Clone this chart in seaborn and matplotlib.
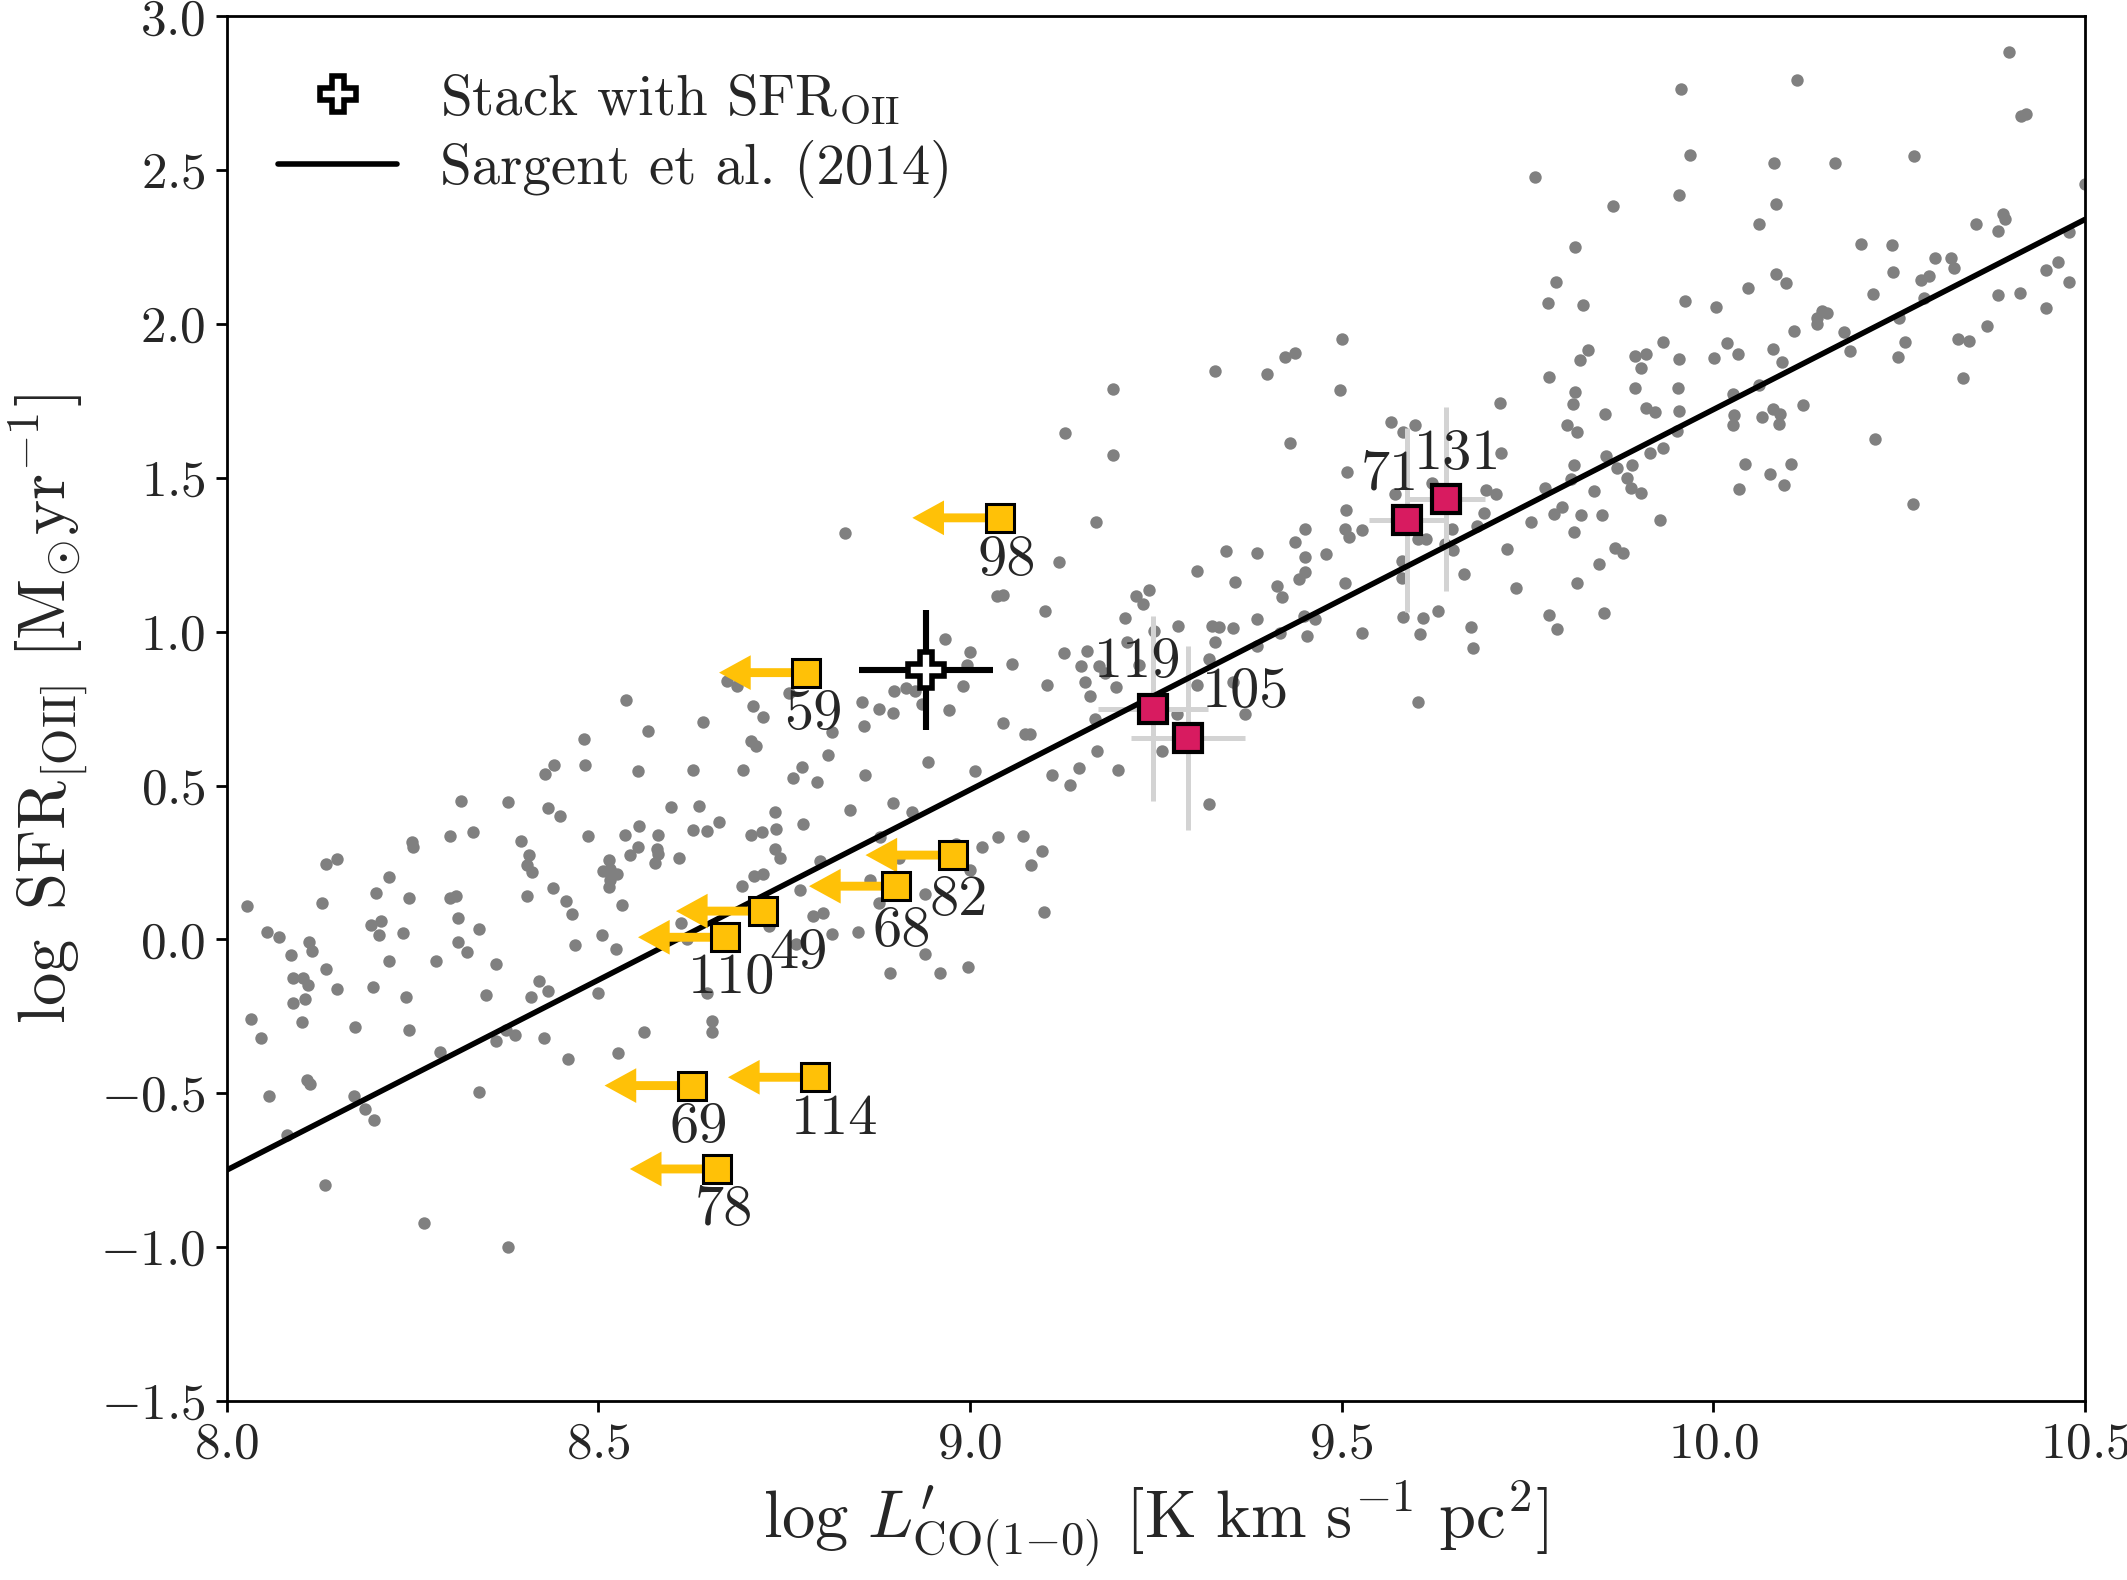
import numpy as np
import pandas as pd
import matplotlib
matplotlib.use("Agg")
import matplotlib.pyplot as plt
from matplotlib.lines import Line2D
import seaborn as sns

sns.set_theme(style="ticks")
plt.rcParams['font.family'] = ['cmr10', 'DejaVu Serif']
plt.rcParams['mathtext.fontset'] = 'cm'
plt.rcParams['axes.formatter.use_mathtext'] = True
plt.rcParams['axes.unicode_minus'] = True

# grey comparison sample (log L'CO, log SFR)
gx = [8.481, 8.482, 8.440, 8.428, 8.315, 8.378, 8.433, 8.448, 8.486, 8.301, 8.332, 8.250, 8.251, 8.396,
      8.407, 8.404, 8.411, 8.148, 8.134, 8.218, 8.201, 8.246, 8.301, 8.309, 8.128, 8.028, 8.439, 8.404,
      8.456, 8.465, 8.054, 8.070, 8.111, 8.115, 8.087, 8.195, 8.208, 8.205, 8.238, 8.312, 8.339, 8.311,
      8.324, 8.469, 8.134, 8.089, 8.103, 8.109, 8.148, 8.197, 8.218, 8.282, 8.362, 8.241, 8.349, 8.420,
      8.433, 8.409, 8.500, 8.105, 8.090, 8.101, 8.033, 8.047, 8.173, 8.245, 8.376, 8.388, 8.362, 8.427,
      8.287, 8.459, 8.108, 8.112, 8.057, 8.172, 8.186, 8.199, 8.339, 8.081, 8.133, 8.265, 8.378, 8.505,
      # 8.5 - 9.0
      8.832, 8.538, 8.567, 8.641, 8.673, 8.686, 8.708, 8.721, 8.706, 8.712, 8.756, 8.815, 8.809, 8.774,
      8.762, 8.794, 8.695, 8.627, 8.553, 8.855, 8.877, 8.858, 8.897, 8.898, 8.914, 8.926, 8.935, 8.967,
      9.000, 8.996, 8.991, 8.972, 8.943, 8.859, 9.007, 8.897, 8.922, 8.839, 8.776, 8.738, 8.739, 8.663,
      8.635, 8.598, 8.627, 8.646, 8.555, 8.536, 8.580, 8.706, 8.720, 8.553, 8.543, 8.579, 8.581, 8.576,
      8.608, 8.514, 8.507, 8.516, 8.525, 8.516, 8.514, 8.532, 8.738, 8.745, 8.709, 8.722, 8.694, 8.772,
      8.798, 8.866, 8.879, 8.904, 8.981, 8.940, 8.877, 8.789, 8.802, 8.814, 8.849, 8.766, 8.730, 8.611,
      8.619, 8.524, 8.940, 8.892, 8.960, 8.998, 8.646, 8.561, 8.653, 8.653, 8.527,
      # 9.0 - 9.5
      9.193, 9.128, 9.193, 9.330, 9.399, 9.424, 9.437, 9.431, 9.169, 9.120, 9.036, 9.045, 9.101, 9.126,
      9.056, 9.103, 9.044, 9.074, 9.081, 9.016, 9.038, 9.071, 9.097, 9.082, 9.000, 9.099, 9.111, 9.135,
      9.147, 9.171, 9.199, 9.168, 9.162, 9.155, 9.149, 9.158, 9.173, 9.181, 9.197, 9.208, 9.223, 9.233,
      9.241, 9.211, 9.228, 9.247, 9.280, 9.306, 9.326, 9.335, 9.354, 9.329, 9.322, 9.345, 9.357, 9.386,
      9.386, 9.386, 9.413, 9.420, 9.417, 9.442, 9.451, 9.451, 9.437, 9.451, 9.479, 9.449, 9.464, 9.453,
      9.354, 9.370, 9.306, 9.278, 9.258, 9.322,
      # 9.5 - 10.0
      9.956, 9.968, 9.954, 9.760, 9.865, 9.814, 9.788, 9.778, 9.824, 9.962, 9.501, 9.498, 9.831, 9.820,
      9.894, 9.910, 9.932, 9.903, 9.954, 9.779, 9.895, 9.953, 9.814, 9.811, 9.803, 9.817, 9.854, 9.910,
      9.921, 9.954, 9.951, 9.713, 9.566, 9.582, 9.599, 9.507, 9.714, 9.572, 9.621, 9.694, 9.707, 9.506,
      9.505, 9.510, 9.527, 9.504, 9.692, 9.682, 9.648, 9.614, 9.603, 9.639, 9.650, 9.581, 9.581, 9.664,
      9.722, 9.735, 9.755, 9.774, 9.786, 9.797, 9.808, 9.813, 9.822, 9.840, 9.850, 9.812, 9.855, 9.870,
      9.884, 9.891, 9.889, 9.903, 9.915, 9.932, 9.928, 9.868, 9.878, 9.846, 9.816, 9.779, 9.790, 9.853,
      9.583, 9.610, 9.605, 9.629, 9.674, 9.677, 9.528, 9.603,
      # 10.0 - 10.5
      10.398, 10.414, 10.421, 10.113, 10.082, 10.163, 10.270, 10.084, 10.061, 10.500, 10.199, 10.240,
      10.241, 10.353, 10.389, 10.392, 10.383, 10.479, 10.298, 10.320, 10.324, 10.290, 10.279, 10.283,
      10.084, 10.098, 10.046, 10.215, 10.003, 10.146, 10.153, 10.139, 10.140, 10.109, 10.176, 10.184,
      10.018, 10.033, 10.001, 10.080, 10.092, 10.250, 10.258, 10.248, 10.329, 10.344, 10.368, 10.383,
      10.412, 10.447, 10.464, 10.479, 10.448, 10.336, 10.061, 10.027, 10.028, 10.027, 10.065, 10.080,
      10.090, 10.088, 10.120, 10.217, 10.043, 10.105, 10.076, 10.095, 10.034, 10.269]
gy = [0.651, 0.566, 0.566, 0.538, 0.451, 0.446, 0.426, 0.401, 0.337, 0.336, 0.350, 0.318, 0.301, 0.320,
      0.274, 0.243, 0.218, 0.262, 0.245, 0.203, 0.152, 0.136, 0.134, 0.140, 0.117, 0.108, 0.167, 0.140,
      0.124, 0.084, 0.024, 0.009, -0.009, -0.037, -0.052, 0.047, 0.059, 0.013, 0.022, 0.071, 0.034, -0.009,
      -0.040, -0.018, -0.096, -0.125, -0.127, -0.149, -0.161, -0.155, -0.070, -0.070, -0.081, -0.187, -0.181, -0.136,
      -0.168, -0.187, -0.173, -0.193, -0.208, -0.267, -0.260, -0.320, -0.285, -0.293, -0.293, -0.310, -0.330, -0.320,
      -0.366, -0.388, -0.456, -0.469, -0.509, -0.509, -0.552, -0.586, -0.495, -0.636, -0.797, -0.922, -1.000, 0.013,
      # 8.5 - 9.0
      1.321, 0.779, 0.677, 0.705, 0.839, 0.825, 0.758, 0.722, 0.644, 0.628, 0.800, 0.673, 0.599, 0.561,
      0.524, 0.512, 0.550, 0.550, 0.548, 0.770, 0.749, 0.694, 0.737, 0.808, 0.817, 0.808, 0.765, 0.977,
      0.933, 0.892, 0.822, 0.744, 0.576, 0.535, 0.547, 0.444, 0.414, 0.422, 0.375, 0.414, 0.360, 0.381,
      0.432, 0.430, 0.356, 0.352, 0.367, 0.340, 0.338, 0.340, 0.348, 0.300, 0.274, 0.294, 0.278, 0.248,
      0.263, 0.259, 0.222, 0.230, 0.211, 0.193, 0.170, 0.112, 0.295, 0.263, 0.207, 0.211, 0.173, 0.161,
      0.254, 0.193, 0.332, 0.263, 0.309, 0.147, 0.118, 0.075, 0.086, 0.017, 0.025, -0.016, 0.042, 0.054,
      0.002, -0.030, -0.048, -0.108, -0.108, -0.091, -0.174, -0.300, -0.265, -0.300, -0.369,
      # 9.0 - 9.5
      1.790, 1.647, 1.573, 1.848, 1.838, 1.892, 1.906, 1.613, 1.357, 1.225, 1.117, 1.120, 1.068, 0.932,
      0.896, 0.827, 0.704, 0.666, 0.666, 0.301, 0.333, 0.337, 0.286, 0.243, 0.226, 0.089, 0.533, 0.501,
      0.558, 0.611, 0.550, 0.717, 0.791, 0.835, 0.887, 0.936, 0.888, 0.867, 0.820, 1.045, 1.117, 1.091,
      1.135, 0.965, 0.891, 1.001, 1.019, 1.196, 1.020, 1.014, 1.012, 0.967, 0.910, 1.261, 1.161, 1.255,
      1.041, 0.954, 1.149, 1.113, 0.997, 1.171, 1.193, 1.244, 1.292, 1.335, 1.254, 1.052, 1.041, 0.985,
      0.835, 0.733, 0.826, 0.733, 0.611, 0.439,
      # 9.5 - 10.0
      2.764, 2.550, 2.419, 2.478, 2.384, 2.251, 2.137, 2.067, 2.061, 2.074, 1.952, 1.786, 1.916, 1.882,
      1.896, 1.902, 1.941, 1.857, 1.886, 1.828, 1.792, 1.793, 1.778, 1.740, 1.673, 1.649, 1.707, 1.726,
      1.713, 1.716, 1.652, 1.744, 1.682, 1.649, 1.671, 1.518, 1.580, 1.448, 1.483, 1.462, 1.448, 1.396,
      1.335, 1.307, 1.331, 1.159, 1.385, 1.342, 1.335, 1.300, 1.300, 1.286, 1.265, 1.230, 1.173, 1.187,
      1.268, 1.142, 1.356, 1.468, 1.383, 1.406, 1.497, 1.541, 1.378, 1.458, 1.379, 1.324, 1.571, 1.533,
      1.501, 1.542, 1.466, 1.452, 1.582, 1.596, 1.363, 1.272, 1.255, 1.220, 1.158, 1.053, 1.008, 1.061,
      1.049, 1.046, 0.994, 1.067, 1.015, 0.948, 0.997, 0.772,
      # 10.0 - 10.5
      2.884, 2.675, 2.682, 2.794, 2.523, 2.523, 2.545, 2.391, 2.324, 2.456, 2.261, 2.256,
      2.170, 2.324, 2.359, 2.340, 2.303, 2.299, 2.215, 2.213, 2.183, 2.155, 2.142, 2.085,
      2.162, 2.134, 2.118, 2.096, 2.054, 2.043, 2.036, 2.018, 1.999, 1.977, 1.974, 1.913,
      1.937, 1.902, 1.891, 1.920, 1.875, 2.018, 1.940, 1.893, 1.950, 1.945, 1.993, 2.094,
      2.101, 2.177, 2.202, 2.137, 2.052, 1.823, 1.803, 1.771, 1.704, 1.671, 1.698, 1.725,
      1.709, 1.674, 1.738, 1.625, 1.544, 1.544, 1.512, 1.476, 1.463, 1.415]

# Sargent et al. (2014) relation, end points
line_x = [8.0, 10.5]
line_y = [-0.75, 2.34]

# upper limits in L'CO
ul_ids = ['98', '59', '82', '68', '49', '110', '69', '114', '78']
ul_x = [9.040, 8.780, 8.977, 8.901, 8.722, 8.671, 8.626, 8.792, 8.660]
ul_y = [1.370, 0.867, 0.274, 0.173, 0.092, 0.007, -0.475, -0.448, -0.746]
ul_len = 0.1175

# detections
det_ids = ['119', '105', '71', '131']
det_x = [9.246, 9.293, 9.588, 9.640]
det_y = [0.750, 0.655, 1.363, 1.431]
det_xerr = [0.074, 0.077, 0.051, 0.053]
det_yerr = [0.30, 0.30, 0.30, 0.30]

# stack
stack_x, stack_y = 8.941, 0.875
stack_xerr, stack_yerr = 0.090, 0.195

# label offsets (points)
ul_off = {'98': (2.4, -15.5), '59': (2.4, -15.0), '82': (2.0, -16.2), '68': (2.0, -16.4),
          '49': (12.6, -15.2), '110': (2.4, -14.8), '69': (2.4, -15.1), '114': (6.8, -15.1),
          '78': (2.4, -15.1)}
det_off = {'119': (-5.4, 16.8), '105': (21.0, 16.4), '71': (-6.2, 16.2), '131': (4.4, 15.9)}

yellow = '#FFC107'
red = '#D81B60'

fig = plt.figure(figsize=(10.635, 7.9), dpi=200)
ax = fig.add_axes([0.1065, 0.1133, 0.8738, 0.8764])

df = pd.DataFrame({'x': gx, 'y': gy})
sns.scatterplot(data=df, x='x', y='y', color='grey', s=20, linewidth=0, ax=ax, zorder=1)

ax.errorbar(det_x, det_y, xerr=det_xerr, yerr=det_yerr, fmt='none',
            ecolor='lightgrey', elinewidth=1.8, capsize=0, zorder=2)

sns.lineplot(x=line_x, y=line_y, color='black', lw=2.0, ax=ax, zorder=3)

for i, lab in enumerate(ul_ids):
    ax.annotate('', xy=(ul_x[i] - ul_len, ul_y[i]), xytext=(ul_x[i], ul_y[i]),
                arrowprops=dict(arrowstyle='simple,head_length=1.14,head_width=1.25,tail_width=0.32',
                                mutation_scale=10, color=yellow, lw=0, shrinkA=0, shrinkB=0),
                zorder=4)
ax.plot(ul_x, ul_y, 's', ms=10, mfc=yellow, mec='black', mew=1.1, ls='none', zorder=5)
for i, lab in enumerate(ul_ids):
    ax.annotate(lab, (ul_x[i], ul_y[i]), xytext=ul_off[lab], textcoords='offset points',
                ha='center', va='center', fontsize=21, zorder=6)

ax.plot(det_x, det_y, 's', ms=10, mfc=red, mec='black', mew=1.5, ls='none', zorder=5)
for i, lab in enumerate(det_ids):
    ax.annotate(lab, (det_x[i], det_y[i]), xytext=det_off[lab], textcoords='offset points',
                ha='center', va='center', fontsize=21, zorder=6)

ax.errorbar([stack_x], [stack_y], xerr=stack_xerr, yerr=stack_yerr, fmt='none',
            ecolor='black', elinewidth=2.2, capsize=0, zorder=6)
ax.plot([stack_x], [stack_y], 'P', ms=13, mfc='white', mec='black', mew=2, zorder=7)

ax.set_xlim(8.0, 10.5)
ax.set_ylim(-1.5, 3.0)
ax.set_xticks(np.arange(8.0, 10.51, 0.5))
ax.set_yticks(np.arange(-1.5, 3.01, 0.5))
ax.xaxis.set_major_formatter(matplotlib.ticker.FormatStrFormatter(r'$%.1f$'))
ax.yaxis.set_major_formatter(matplotlib.ticker.FormatStrFormatter(r'$%.1f$'))
ax.tick_params(labelsize=18.5, direction='out', length=4, width=1, color='black')
for sp in ax.spines.values():
    sp.set_color('black')
    sp.set_linewidth(1.0)

ax.set_xlabel(r"$\log\, L^{\prime}_{\mathrm{CO(1{-}0)}}\ [\mathrm{K\ km\ s^{-1}\ pc^{2}}]$", fontsize=24)
ax.set_ylabel(r"$\log\ \mathrm{SFR}_{\mathrm{[OII]}}\ [\mathrm{M}_{\odot}\mathrm{yr}^{-1}]$", fontsize=24)

handles = [Line2D([], [], marker='P', ms=13, mfc='white', mec='black', mew=2, ls='none'),
           Line2D([], [], color='black', lw=2.0)]
labels = [r'Stack with SFR$_{\mathrm{OII}}$', 'Sargent et al. (2014)']
ax.legend(handles, labels, loc='upper left', bbox_to_anchor=(0.0, 0.997), frameon=False,
          fontsize=20.5, handlelength=2.1, handletextpad=0.75, labelspacing=0.25)

fig.savefig('out.png', dpi=200)
